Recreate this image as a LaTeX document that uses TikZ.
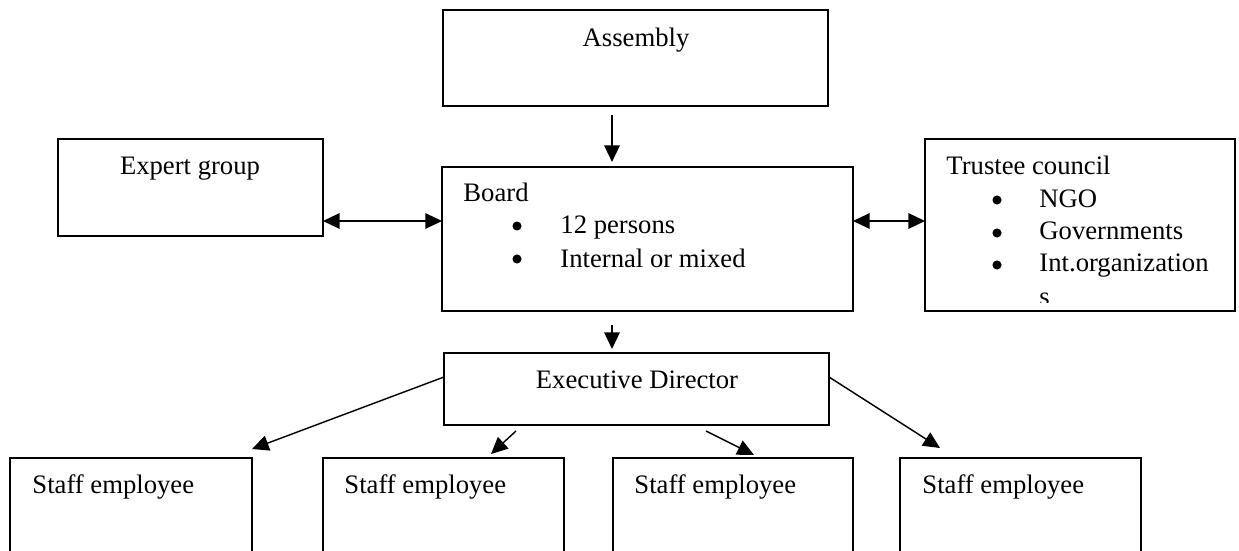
\documentclass[tikz,border=0pt]{standalone}
\usepackage{fontspec}
\setmainfont{Liberation Serif}
\usepackage{tikz}
\usetikzlibrary{arrows.meta,positioning,fit,calc}

\begin{document}
\begin{tikzpicture}[x=0.45pt, y=-0.45pt,
    every node/.style={font=\fontsize{12}{14.85}\selectfont, inner sep=0pt},
    box/.style={draw, line width=0.8pt, inner sep=0pt, outer sep=0pt},
    dot/.style={circle, fill, minimum size=4.1pt, inner sep=0pt},
    arr/.style={-{Triangle[length=7.5pt,width=7pt]}, line width=0.65pt},
    dbl/.style={{Triangle[length=7.5pt,width=7pt]}-{Triangle[length=7.5pt,width=7pt]}, line width=0.65pt}]

    % 1. Ukuran gambar
    \useasboundingbox (0,0) rectangle (1239,551);
    \clip (0,0) rectangle (1239,551);

    % 2. Kotak-kotak
    \node[box, fit={(443,10) (828,106)}] (assembly) {};
    \node[box, fit={(58,139) (323,236)}] (expert) {};
    \node[box, fit={(442,167) (853,311)}] (board) {};
    \node[box, fit={(925,139) (1235,311)}] (trustee) {};
    \node[box, fit={(444,353) (829,425)}] (exec) {};
    \node[box, fit={(10,458) (252,600)}] (staffA) {};
    \node[box, fit={(323,458) (564,600)}] (staffB) {};
    \node[box, fit={(613,458) (853,600)}] (staffC) {};
    \node[box, fit={(900,458) (1141,600)}] (staffD) {};

    % 3. Teks
    \node[anchor=base] (assemblyT) at (636,47) {Assembly};
    \node[anchor=base] (expertT) at (190,175) {Expert group};
    \node[anchor=base west] (boardT) at (463,202) {Board};
    \node[dot] (bulA) at (517,226) {};
    \node[anchor=base west] (boardA) at (560,234) {12 persons};
    \node[dot] (bulB) at (517,259) {};
    \node[anchor=base west] (boardB) at (560,267) {Internal or mixed};

    \node[anchor=base west] (trusteeT) at (946,175) {Trustee council};
    \node[dot] (bulC) at (997,200) {};
    \node[anchor=base west] (trusteeA) at (1039,207) {NGO};
    \node[dot] (bulD) at (997,233) {};
    \node[anchor=base west] (trusteeB) at (1039,240) {Governments};
    \node[dot] (bulE) at (997,265) {};
    \node[anchor=base west] (trusteeC) at (1039,272) {Int.organization};
    \begin{scope}
        \clip (925,139) rectangle (1235,302);
        \node[anchor=base west] (trusteeD) at (1039,305) {s};
    \end{scope}

    \node[anchor=base] (execT) at (637,388) {Executive Director};
    \node[anchor=base west] (staffAT) at (32,493) {Staff employee};
    \node[anchor=base west] (staffBT) at (344,493) {Staff employee};
    \node[anchor=base west] (staffCT) at (634,493) {Staff employee};
    \node[anchor=base west] (staffDT) at (922,493) {Staff employee};

    % 4. Panah
    \draw[arr] ($(assembly.south west)+(169,9)$) -- ($(board.north west)+(170,-5)$);
    \draw[dbl] ($(expert.south east)+(0,-15)$) -- ($(board.north west)+(0,54)$);
    \draw[dbl] ($(board.north east)+(0,54)$) -- ($(trustee.north west)+(0,82)$);
    \draw[arr] ($(board.south west)+(170,14)$) -- ($(exec.north west)+(168,-4)$);
    \draw[arr] ($(exec.north west)+(0,24)$) -- ($(staffA.north east)+(0,-9)$);
    \draw[arr] ($(exec.south west)+(72,6)$) -- ($(staffB.north west)+(168,-4)$);
    \draw[arr] ($(exec.south west)+(262,6)$) -- ($(staffC.north west)+(141,-3)$);
    \draw[arr] ($(exec.north east)+(0,24)$) -- ($(staffD.north west)+(40,-10)$);

\end{tikzpicture}
\end{document}
